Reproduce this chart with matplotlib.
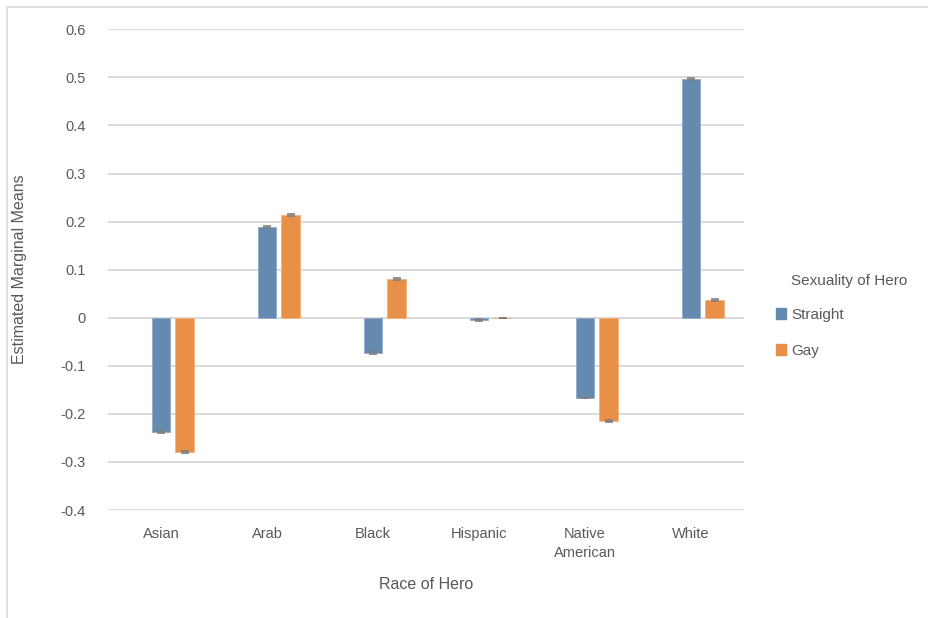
import matplotlib.pyplot as plt
import numpy as np
from matplotlib.patches import Rectangle, Patch

# estimated marginal means by race and sexuality of hero
races = ['Asian', 'Arab', 'Black', 'Hispanic', 'Native\nAmerican', 'White']
straight = [-0.238, 0.189, -0.073, -0.004, -0.166, 0.496]
gay = [-0.279, 0.214, 0.080, 0.000, -0.214, 0.037]
err_straight = [0.002, 0.002, 0.002, 0.002, 0.002, 0.002]
err_gay = [0.002, 0.002, 0.002, 0.0, 0.002, 0.002]

blue = '#658AB0'
orange = '#E88F48'
grid_c = '#D9D9D9'
text_c = '#595959'

plt.rcParams['font.family'] = ['Liberation Sans', 'DejaVu Sans']

fig = plt.figure(figsize=(9.29, 6.18), dpi=100)
# light frame round the chart area
fig.patches.append(Rectangle((7 / 929, -0.1), 1.2, 1 - 7 / 618 + 0.1,
                             transform=fig.transFigure, fill=False,
                             edgecolor=grid_c, linewidth=1.2))

ax = fig.add_axes([108 / 929, 1 - 510 / 618, (744 - 108) / 929, (510 - 29.3) / 618])

x = np.arange(len(races))
w = 0.178
ax.bar(x, straight, w, color=blue, edgecolor='#8FAACB', linewidth=0.6,
       yerr=err_straight, ecolor='#7F7F7F', capsize=3.2,
       error_kw={'elinewidth': 0.8, 'capthick': 1.2}, zorder=3)
ax.bar(x + 0.225, gay, w, color=orange, edgecolor='#F2B27F', linewidth=0.6,
       yerr=err_gay, ecolor='#7F7F7F', capsize=3.2,
       error_kw={'elinewidth': 0.8, 'capthick': 1.2}, zorder=3)

ax.set_xlim(-0.5, len(races) - 0.5)
ax.set_ylim(-0.4, 0.6)
ax.set_yticks(np.arange(-0.4, 0.61, 0.1))
ax.set_yticklabels(['-0.4', '-0.3', '-0.2', '-0.1', '0', '0.1', '0.2',
                    '0.3', '0.4', '0.5', '0.6'])
ax.set_xticks(x)
ax.set_xticklabels(races, linespacing=1.5)
ax.tick_params(axis='both', length=0, labelsize=10.5, labelcolor=text_c)
ax.tick_params(axis='y', pad=16)
ax.tick_params(axis='x', pad=12)
ax.yaxis.grid(True, color=grid_c, linewidth=1.4, zorder=0)
ax.set_axisbelow(True)
for s in ax.spines.values():
    s.set_visible(False)

ax.set_ylabel('Estimated Marginal Means', fontsize=11.5, color=text_c, labelpad=24)
ax.set_xlabel('Race of Hero', fontsize=11.5, color=text_c, labelpad=12)

# legend title sits in line with the entry text
fig.text(791 / 929, 1 - 281 / 618, 'Sexuality of Hero', fontsize=11,
         color=text_c, va='center', ha='left')
handles = [Patch(color=blue, label='Straight'), Patch(color=orange, label='Gay')]
fig.legend(handles=handles, loc='upper left',
           bbox_to_anchor=(762 / 929, 1 - 294 / 618), frameon=False,
           fontsize=11, labelcolor=text_c,
           handlelength=0.7, handleheight=0.7, handletextpad=0.3,
           labelspacing=1.45)

fig.savefig('out.png', dpi=100)
